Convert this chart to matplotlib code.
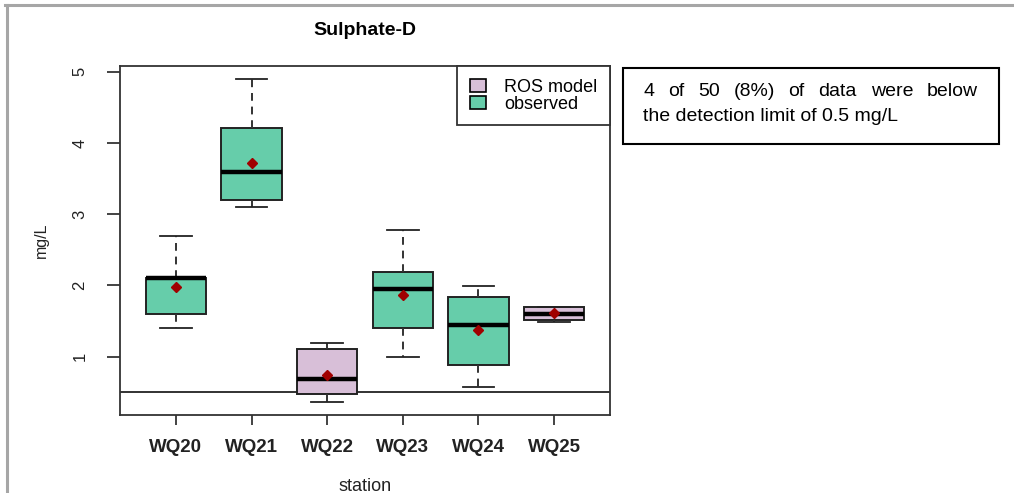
import matplotlib
matplotlib.use("Agg")
import matplotlib.pyplot as plt
from matplotlib.patches import Patch, Rectangle
from matplotlib.lines import Line2D

plt.rcParams['font.family'] = ['Liberation Sans', 'DejaVu Sans']

# box statistics (mg/L)
stations = ["WQ20", "WQ21", "WQ22", "WQ23", "WQ24", "WQ25"]
source = ["observed", "observed", "ROS model", "observed", "observed", "ROS model"]
whisker_low = [1.40, 3.10, 0.36, 1.00, 0.57, 1.48]
q1 = [1.60, 3.20, 0.47, 1.40, 0.88, 1.52]
median = [2.10, 3.59, 0.69, 1.95, 1.44, 1.60]
q3 = [2.11, 4.21, 1.10, 2.19, 1.83, 1.69]
whisker_high = [2.70, 4.90, 1.19, 2.78, 1.99, 1.70]
means = [1.98, 3.72, 0.74, 1.87, 1.37, 1.61]
detection_limit = 0.5
note_line1 = "4 of 50 (8%) of data were below"
note_line2 = "the detection limit of 0.5 mg/L"

colors = {"ROS model": "#d8bfd8", "observed": "#66cdaa"}

W, H = 1014, 493


def fx(px):
    return px / W


def fy(py):
    return 1 - py / H


fig = plt.figure(figsize=(W / 100, H / 100), dpi=100, facecolor='white')
ax = fig.add_axes([fx(120), fy(415), fx(610) - fx(120), fy(66) - fy(415)])

stats = []
for i in range(len(stations)):
    stats.append(dict(label=stations[i], whislo=whisker_low[i], q1=q1[i],
                      med=median[i], q3=q3[i], whishi=whisker_high[i],
                      mean=means[i], fliers=[]))

positions = list(range(1, len(stations) + 1))
bp = ax.bxp(stats, positions=positions, widths=0.8, capwidths=0.42,
            patch_artist=True, showmeans=True,
            boxprops=dict(edgecolor='#222222', linewidth=1.4),
            medianprops=dict(color='black', linewidth=3.2),
            whiskerprops=dict(color='#333333', linewidth=1.4, linestyle=(0, (4, 3))),
            capprops=dict(color='#222222', linewidth=1.3),
            meanprops=dict(marker='D', markerfacecolor='#a00000',
                           markeredgecolor='#a00000', markersize=5))
for patch, src in zip(bp['boxes'], source):
    patch.set_facecolor(colors[src])

ax.axhline(detection_limit, color='#222222', linewidth=1.3, zorder=1)

# R-style 4% axis expansion
lo, hi = min(whisker_low), max(whisker_high)
ax.set_ylim(lo - 0.04 * (hi - lo), hi + 0.04 * (hi - lo))
ax.set_xlim(0.5 - 0.24, len(stations) + 0.5 + 0.24)

ax.set_yticks([1, 2, 3, 4, 5])
ax.set_xticks(positions)
ax.set_xticklabels(stations, fontweight='bold', fontsize=13.5)
ax.tick_params(axis='y', direction='out', length=9.5, width=1.2, pad=14,
               labelsize=12, labelrotation=90, colors='#222222')
ax.tick_params(axis='x', direction='out', length=7, width=1.2, pad=10,
               colors='#222222')
for lab in ax.get_yticklabels():
    lab.set_verticalalignment('center')
for s in ax.spines.values():
    s.set_linewidth(1.3)
    s.set_color('#333333')

ax.set_title("Sulphate-D", fontweight='bold', fontsize=14, pad=22)
ax.set_xlabel("station", fontsize=13, labelpad=16, color='#222222')
ax.set_ylabel("mg/L", fontsize=11.5, labelpad=17, color='#222222')

handles = [Patch(facecolor=colors["ROS model"], edgecolor='black', linewidth=1.2),
           Patch(facecolor=colors["observed"], edgecolor='black', linewidth=1.2)]
leg = ax.legend(handles, ["ROS model", "observed"], loc='upper right',
                bbox_to_anchor=(1, 1), borderaxespad=0, fancybox=False,
                framealpha=1, edgecolor='#333333', fontsize=13,
                handlelength=0.9, handleheight=0.7, labelspacing=0.0,
                borderpad=0.7, handletextpad=1.0)
leg.get_frame().set_linewidth(1.3)

# note box on the right
fig.add_artist(Rectangle((fx(623), fy(144)), fx(999) - fx(623), fy(68) - fy(144),
                         transform=fig.transFigure, facecolor='none',
                         edgecolor='black', linewidth=1.5))

renderer = fig.canvas.get_renderer()
words = note_line1.split()
texts = [fig.text(0, fy(96), w, fontsize=14, va='baseline') for w in words]
widths = [t.get_window_extent(renderer).width / fig.bbox.width for t in texts]
gap = (fx(978) - fx(643) - sum(widths)) / (len(words) - 1)
x = fx(643)
for t, w in zip(texts, widths):
    t.set_x(x)
    x += w + gap
fig.text(fx(643), fy(121), note_line2, fontsize=14, va='baseline')

# grey page frame
fig.add_artist(Line2D([fx(5), 1], [fy(5), fy(5)], transform=fig.transFigure,
                      color='#a6a6a6', linewidth=2.2))
fig.add_artist(Line2D([fx(6.5), fx(6.5)], [fy(5), 0], transform=fig.transFigure,
                      color='#a6a6a6', linewidth=2.2))

fig.savefig("out.png", dpi=100, facecolor='white')
